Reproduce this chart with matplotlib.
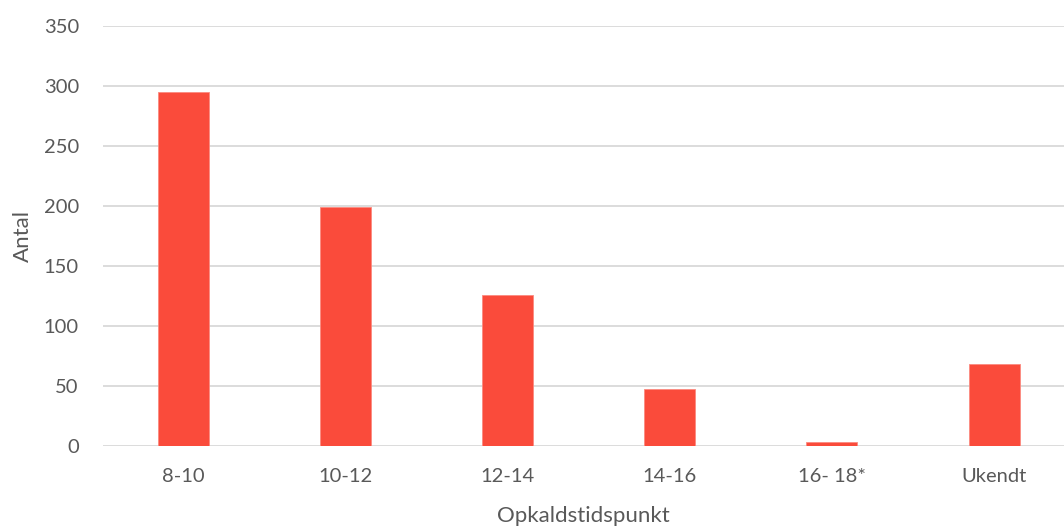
import matplotlib
matplotlib.use("Agg")
import matplotlib.pyplot as plt

categories = ["8-10", "10-12", "12-14", "14-16", "16- 18*", "Ukendt"]
values = [295, 199, 126, 47, 3, 68]
yticks = [0, 50, 100, 150, 200, 250, 300, 350]

plt.rcParams['font.family'] = ['Lato', 'DejaVu Sans']
text_color = "#595959"

fig = plt.figure(figsize=(10.64, 5.26), dpi=100)
ax = fig.add_axes([102.5/1064, 80.3/526, 1 - 102.5/1064, 419.7/526])

x = list(range(len(categories)))
ax.bar(x, values, width=0.315, color="#FA4B3B", edgecolor="#FB8A80", linewidth=0.6, zorder=3)

ax.set_ylim(0, 350)
ax.set_xlim(-0.5, -0.5 + (1064 - 102.5) / 162.1)
ax.set_yticks(yticks)
ax.set_xticks(x)
ax.set_xticklabels(categories)
ax.yaxis.grid(True, color="#D9D9D9", linewidth=1.3, zorder=0)
ax.set_axisbelow(True)
for s in ax.spines.values():
    s.set_visible(False)
ax.tick_params(axis='both', length=0, labelsize=14.5, colors=text_color)
ax.tick_params(axis='y', pad=17)
ax.tick_params(axis='x', pad=16)
ax.set_ylabel("Antal", fontsize=16, color=text_color, labelpad=8)
ax.set_xlabel("Opkaldstidspunkt", fontsize=16, color=text_color, labelpad=15)

fig.savefig("out.png", dpi=100)
